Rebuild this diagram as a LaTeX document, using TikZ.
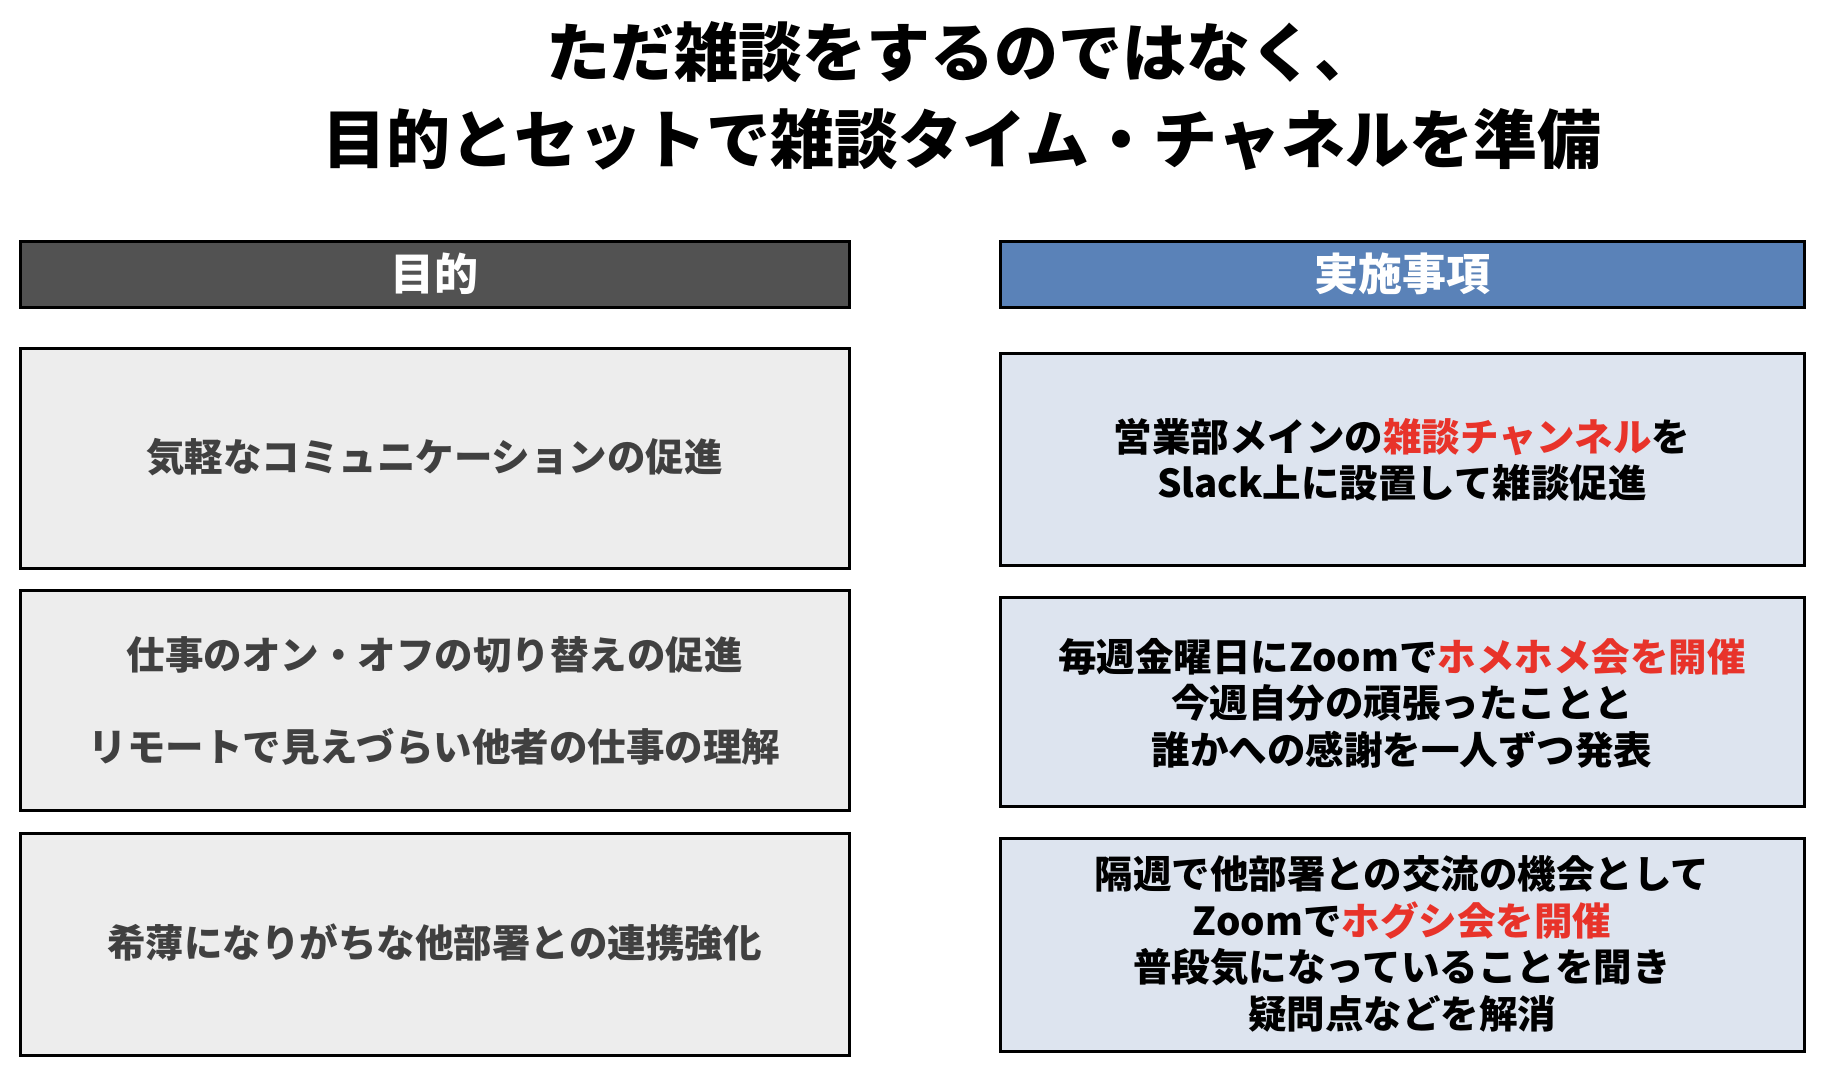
\documentclass[tikz,border=0pt]{standalone}
\usepackage{fontspec}
\setmainfont{Noto Sans CJK JP}
\newfontfamily\jp{Noto Sans CJK JP}
\definecolor{hdrgray}{HTML}{525252}
\definecolor{hdrblue}{HTML}{5A82B8}
\definecolor{boxgray}{HTML}{EDEDED}
\definecolor{boxblue}{HTML}{DDE4EF}
\definecolor{txtgray}{HTML}{404040}
\definecolor{hired}{HTML}{E8332A}
\tikzset{
  frame/.style={draw=black, line width=3pt},
  hdrtext/.style={text=white, font=\jp\bfseries\fontsize{44}{52}\selectfont, inner sep=0pt},
  lefttext/.style={text=txtgray, font=\jp\bfseries\fontsize{38.5}{46}\selectfont, inner sep=0pt, align=center},
  righttext/.style={text=black, font=\jp\bfseries\fontsize{38.5}{46.5}\selectfont, inner sep=0pt, align=center},
  titletext/.style={text=black, font=\jp\bfseries\fontsize{64}{76}\selectfont, inner sep=0pt},
}
\newcommand{\hl}[1]{\textcolor{hired}{#1}}
\begin{document}
\begin{tikzpicture}[x=1pt,y=-1pt]
\useasboundingbox (0,0) rectangle (1826,1066);
% title
\node[titletext] (t1) at (962,52) {ただ雑談をするのではなく、};
\node[titletext] (t2) at (962,140) {目的とセットで雑談タイム・チャネルを準備};
% headers
\filldraw[frame, fill=hdrgray] (20,241) rectangle (849,307);
\node[hdrtext] (h1) at (434.5,274) {目的};
\filldraw[frame, fill=hdrblue] (1000,241) rectangle (1804,307);
\node[hdrtext] (h2) at (1402,274) {実施事項};
% left boxes
\filldraw[frame, fill=boxgray] (20,348) rectangle (849,568);
\node[lefttext] (l1) at (434.5,457) {気軽なコミュニケーションの促進};
\filldraw[frame, fill=boxgray] (20,590) rectangle (849,810);
\node[lefttext] (l2a) at (434.5,655) {仕事のオン・オフの切り替えの促進};
\node[lefttext] (l2b) at (434.5,747) {リモートで見えづらい他者の仕事の理解};
\filldraw[frame, fill=boxgray] (20,833) rectangle (849,1055);
\node[lefttext] (l3) at (434.5,943) {希薄になりがちな他部署との連携強化};
% right boxes
\filldraw[frame, fill=boxblue] (1000,353) rectangle (1804,565);
\node[righttext] (r1) at (1402,460) {営業部メインの\hl{雑談チャンネル}を\\Slack上に設置して雑談促進};
\filldraw[frame, fill=boxblue] (1000,597) rectangle (1804,806);
\node[righttext] (r2) at (1402,703) {毎週金曜日にZoomで\hl{ホメホメ会を開催}\\今週自分の頑張ったことと\\誰かへの感謝を一人ずつ発表};
\filldraw[frame, fill=boxblue] (1000,838) rectangle (1804,1051);
\node[righttext] (r3) at (1402,944) {隔週で他部署との交流の機会として\\Zoomで\hl{ホグシ会を開催}\\普段気になっていることを聞き\\疑問点などを解消};
\end{tikzpicture}
\end{document}
